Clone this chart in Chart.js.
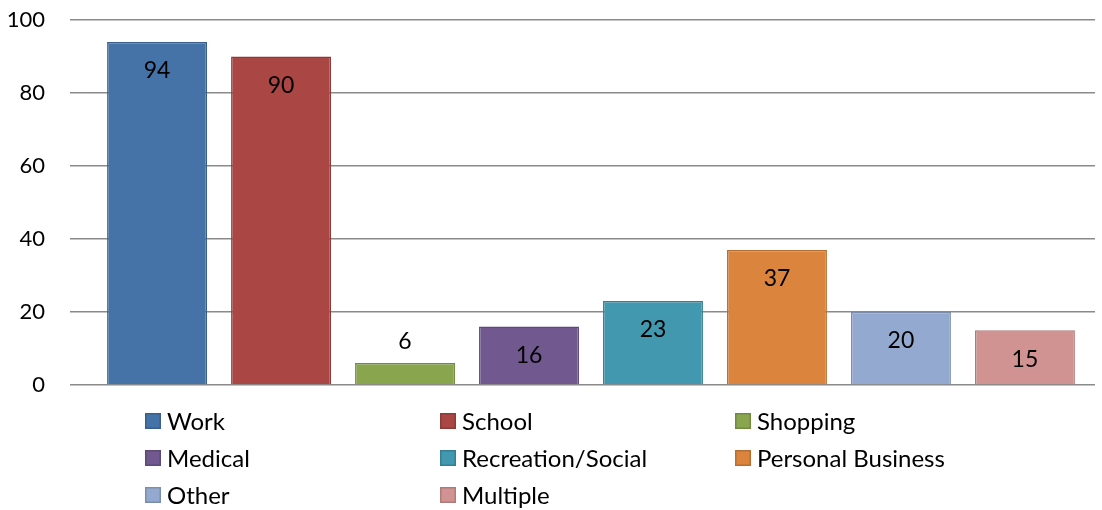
<!DOCTYPE html>
<html>
<head>
<meta charset="utf-8">
<script src="https://cdn.jsdelivr.net/npm/chart.js@4"></script>
<style>
  html, body { margin: 0; padding: 0; background: #fff; }
  #wrap { width: 1102px; height: 510px; position: relative; }
</style>
</head>
<body>
<div id="wrap"><canvas id="trips"></canvas></div>
<script>
// trip purposes, one bar each
const purposes = ["Work", "School", "Shopping", "Medical", "Recreation/Social", "Personal Business", "Other", "Multiple"];
const counts = [94, 90, 6, 16, 23, 37, 20, 15];
const fills = ["#4572A7", "#AA4643", "#89A54E", "#71588F", "#4198AF", "#DB843D", "#93A9CF", "#D19392"];
const edges = ["#3A5F8C", "#8E3B38", "#718A40", "#5E4977", "#367F92", "#B76E33", "#7B8DAD", "#AF7B7A"];
const yTicks = [0, 20, 40, 60, 80, 100];

const FONT = "Lato, 'Open Sans', sans-serif";

// value labels: inside top of bar, or above it when the bar is too short
const valueLabels = {
    id: "valueLabels",
    afterDatasetsDraw(chart) {
        const ctx = chart.ctx;
        ctx.save();
        ctx.font = "23px " + FONT;
        ctx.fillStyle = "#000";
        ctx.textAlign = "center";
        ctx.textBaseline = "middle";
        chart.data.datasets.forEach((ds, i) => {
            const bar = chart.getDatasetMeta(i).data[0];
            const h = bar.base - bar.y;
            const y = h > 45 ? bar.y + 29 : bar.y - 22;
            ctx.fillText(String(ds.data[0]), bar.x, y);
        });
        ctx.restore();
    }
};

// legend in 3 fixed columns under the plot
const gridLegend = {
    id: "gridLegend",
    afterDraw(chart) {
        const ctx = chart.ctx;
        const colX = [145, 440, 735];
        const rowY = [421, 458, 495];
        ctx.save();
        ctx.font = "24px " + FONT;
        ctx.textBaseline = "middle";
        ctx.textAlign = "left";
        purposes.forEach((name, i) => {
            const x = colX[i % 3];
            const y = rowY[Math.floor(i / 3)];
            ctx.fillStyle = fills[i];
            ctx.fillRect(x, y - 8, 16, 16);
            ctx.strokeStyle = edges[i];
            ctx.lineWidth = 1.5;
            ctx.strokeRect(x + 0.75, y - 7.25, 14.5, 14.5);
            ctx.fillStyle = "#000";
            ctx.fillText(name, x + 22, y + 1);
        });
        ctx.restore();
    }
};

const datasets = purposes.map((p, i) => ({
    label: p,
    data: [counts[i]],
    backgroundColor: fills[i],
    borderColor: edges[i],
    borderWidth: 1.5,
    categoryPercentage: 0.984,
    barPercentage: 0.806
}));

new Chart(document.getElementById("trips"), {
    type: "bar",
    data: { labels: [""], datasets: datasets },
    options: {
        responsive: true,
        maintainAspectRatio: false,
        animation: false,
        layout: { padding: { top: 20, right: 7, bottom: 125, left: 0 } },
        plugins: {
            legend: { display: false },
            tooltip: { enabled: false }
        },
        scales: {
            x: { display: false },
            y: {
                min: 0,
                max: 100,
                afterFit(scale) {
                    scale.width = 87;
                    scale.paddingTop = 0;
                    scale.paddingBottom = 0;
                },
                afterBuildTicks(scale) { scale.ticks = yTicks.map(v => ({ value: v })); },
                border: { display: false },
                grid: { color: "#8a8a8a", lineWidth: 1.5, tickLength: 17, drawTicks: true },
                ticks: { color: "#000", padding: 25, font: { size: 22, family: FONT } }
            }
        }
    },
    plugins: [valueLabels, gridLegend]
});
</script>
</body>
</html>
